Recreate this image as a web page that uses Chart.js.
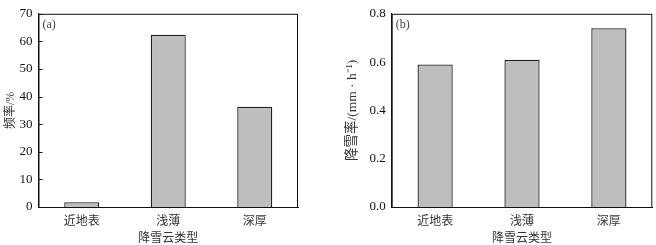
<!DOCTYPE html>
<html>
<head>
<meta charset="utf-8">
<script src="https://cdn.jsdelivr.net/npm/chart.js@4/dist/chart.umd.min.js"></script>
<style>
  html, body { margin: 0; padding: 0; background: #fff; }
  .box { position: absolute; top: 0; width: 328px; height: 245px; }
</style>
</head>
<body>
<div class="box" style="left:0"><canvas id="chartA"></canvas></div>
<div class="box" style="left:328px"><canvas id="chartB"></canvas></div>
<script>
const categories = ["近地表", "浅薄", "深厚"];
const freqValues = [1.7, 62.4, 36.3];
const rateValues = [0.59, 0.61, 0.74];
const xTitle = "降雪云类型";
const freqTitle = "频率/%";
const rateTitle = "降雪率/(mm · h⁻¹)";

const serif = "'Liberation Serif', 'DejaVu Serif', serif";
const cjk = "'Noto Sans CJK SC', sans-serif";
const mixed = "'Liberation Serif', 'Noto Sans CJK SC', serif";

// frame around the plot, panel letter, inward ticks
const framePlugin = {
  id: "frame",
  afterDraw(chart, args, opts) {
    const { ctx, chartArea: a } = chart;
    ctx.save();
    ctx.strokeStyle = "#111";
    ctx.lineWidth = 1;
    ctx.strokeRect(a.left + 0.5, a.top + 0.5, a.right - a.left - 1, a.bottom - a.top);
    if (opts.innerTicks) {
      const y = chart.scales.y;
      y.ticks.forEach(t => {
        const py = Math.round(y.getPixelForValue(t.value)) + 0.5;
        ctx.beginPath();
        ctx.moveTo(a.left, py);
        ctx.lineTo(a.left + 4, py);
        ctx.stroke();
      });
    }
    ctx.fillStyle = "#444";
    ctx.font = "12px " + serif;
    ctx.textBaseline = "middle";
    ctx.fillText(opts.label, a.left + 4, a.top + 11);
    ctx.restore();
  }
};

function makeChart(id, values, yTitle, titleSize, max, step, decimals, yWidth, pad, letter, innerTicks) {
  return new Chart(document.getElementById(id), {
    type: "bar",
    data: {
      labels: categories,
      datasets: [{
        data: values,
        backgroundColor: "#bebebe",
        borderColor: "#222",
        borderWidth: 1.3,
        barPercentage: 0.405,
        categoryPercentage: 1
      }]
    },
    options: {
      responsive: true,
      maintainAspectRatio: false,
      animation: false,
      layout: { padding: pad },
      plugins: {
        legend: { display: false },
        tooltip: { enabled: false },
        frame: { label: letter, innerTicks: innerTicks }
      },
      scales: {
        x: {
          grid: { display: false, drawTicks: false },
          border: { color: "#111", width: 1 },
          ticks: { color: "#333", font: { family: cjk, size: 12 }, padding: 6 },
          title: { display: true, text: xTitle, color: "#333", font: { family: cjk, size: 12 }, padding: { top: 2, bottom: 0 } },
          afterFit: s => { s.height = 38; }
        },
        y: {
          min: 0,
          max: max,
          grid: { display: false, drawTicks: false },
          border: { color: "#111", width: 1 },
          ticks: {
            stepSize: step,
            color: "#111",
            padding: 6,
            font: { family: serif, size: 13 },
            callback: v => Number(v).toFixed(decimals)
          },
          title: { display: true, text: yTitle, color: "#333", font: { family: mixed, size: titleSize }, padding: { top: 4, bottom: 0 } },
          afterFit: s => { s.width = yWidth; }
        }
      }
    },
    plugins: [framePlugin]
  });
}

makeChart("chartA", freqValues, freqTitle, 12, 70, 10, 0, 38.5, { left: 0, top: 12, right: 30, bottom: 0 }, "(a)", true);
makeChart("chartB", rateValues, rateTitle, 13.5, 0.8, 0.2, 1, 51.7, { left: 12, top: 12, right: 3.7, bottom: 0 }, "(b)", false);
</script>
</body>
</html>
